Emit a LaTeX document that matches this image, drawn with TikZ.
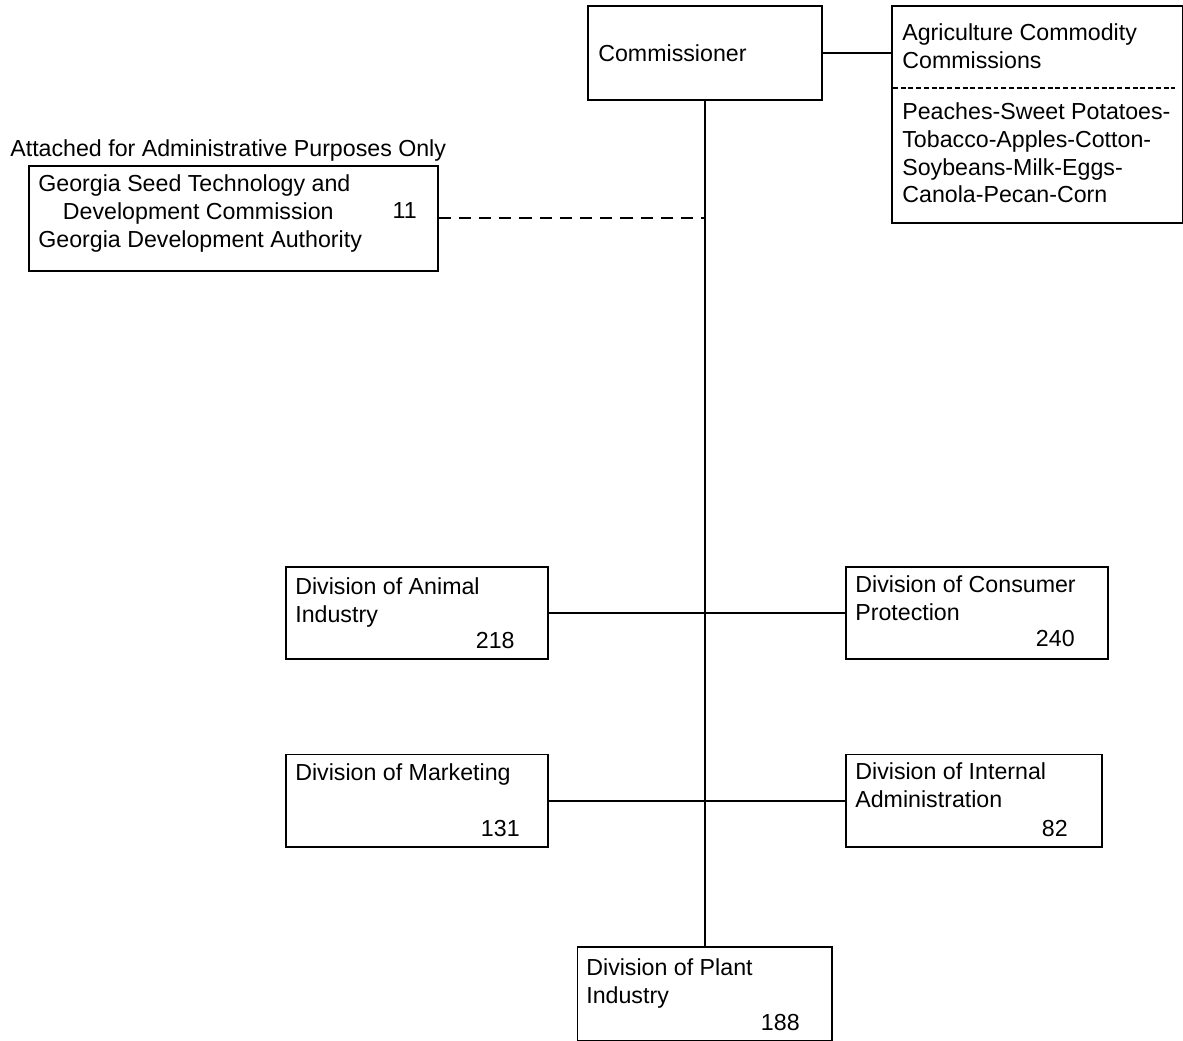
\documentclass[tikz,border=0pt]{standalone}
\usepackage{fontspec}
\setmainfont{Liberation Sans}
\tikzset{
    unitbox/.style={draw, line width=0.9pt, anchor=north west, inner sep=0pt},
    boxtext/.style={anchor=north west, align=left, inner sep=0pt, font=\fontsize{13.2}{15.9}\selectfont},
    staffnum/.style={anchor=base east, inner sep=0pt, font=\fontsize{13.2}{15.9}\selectfont},
    link/.style={line width=0.9pt}
}

\begin{document}
\begin{tikzpicture}[x=0.02cm, y=-0.02cm]
            \useasboundingbox (0,0) rectangle (1183,1041);

            \node [unitbox, minimum width=4.68cm, minimum height=1.88cm] (commish) at (587,5) {};
            \node [unitbox, minimum width=5.82cm, minimum height=4.34cm] (agcomm) at (891,5) {};
            \node [unitbox, minimum width=8.18cm, minimum height=2.1cm] (seed) at (28,165) {};
            \node [unitbox, minimum width=5.24cm, minimum height=1.84cm] (animal) at (285,566) {};
            \node [unitbox, minimum width=5.24cm, minimum height=1.84cm] (consumer) at (845,566) {};
            \node [unitbox, minimum width=5.24cm, minimum height=1.86cm] (marketing) at (285,753.5) {};
            \node [unitbox, minimum width=5.12cm, minimum height=1.86cm] (internal) at (845,753.5) {};
            \node [unitbox, minimum width=5.1cm, minimum height=1.88cm] (plant) at (576.5,946) {};

            \node [boxtext] (commishtxt) at (598,44) {Commissioner};
            \node [boxtext] (agtitle) at (902,23) {Agriculture Commodity\\Commissions};
            \draw [line width=0.6pt, dash pattern=on 2.8pt off 1.6pt] (893,88) -- (1175,88);
            \node [boxtext] (aglist) at (902,102) {Peaches-Sweet Potatoes-\\Tobacco-Apples-Cotton-\\Soybeans-Milk-Eggs-\\Canola-Pecan-Corn};

            \node [boxtext] (attached) at (10,139) {Attached for Administrative Purposes Only};
            \node [boxtext] (seedtxt) at (38,174) {Georgia Seed Technology and\\\hspace{14pt}Development Commission\\Georgia Development Authority};
            \node [staffnum] (seednum) at (417,218) {11};

            \node [boxtext] (animaltxt) at (295,577) {Division of Animal\\Industry};
            \node [staffnum] (animalnum) at (515,648) {218};
            \node [boxtext] (consumertxt) at (855,575) {Division of Consumer\\Protection};
            \node [staffnum] (consumernum) at (1075,646) {240};
            \node [boxtext] (marketingtxt) at (295,763) {Division of Marketing};
            \node [staffnum] (marketingnum) at (520,836) {131};
            \node [boxtext] (internaltxt) at (855,762) {Division of Internal\\Administration};
            \node [staffnum] (internalnum) at (1068,836) {82};
            \node [boxtext] (planttxt) at (586,958) {Division of Plant\\Industry};
            \node [staffnum] (plantnum) at (800,1030) {188};

            \draw [link] (commish.east) -- (commish.east -| agcomm.west);
            \draw [link] (commish.south) -- (commish.south |- plant.north);
            \draw [link, dash pattern=on 7pt off 4.5pt] (seed.east) -- (seed.east -| commish.south);
            \draw [link] (animal.east) -- (consumer.west);
            \draw [link] (marketing.east) -- (internal.west);
        \end{tikzpicture}
\end{document}
